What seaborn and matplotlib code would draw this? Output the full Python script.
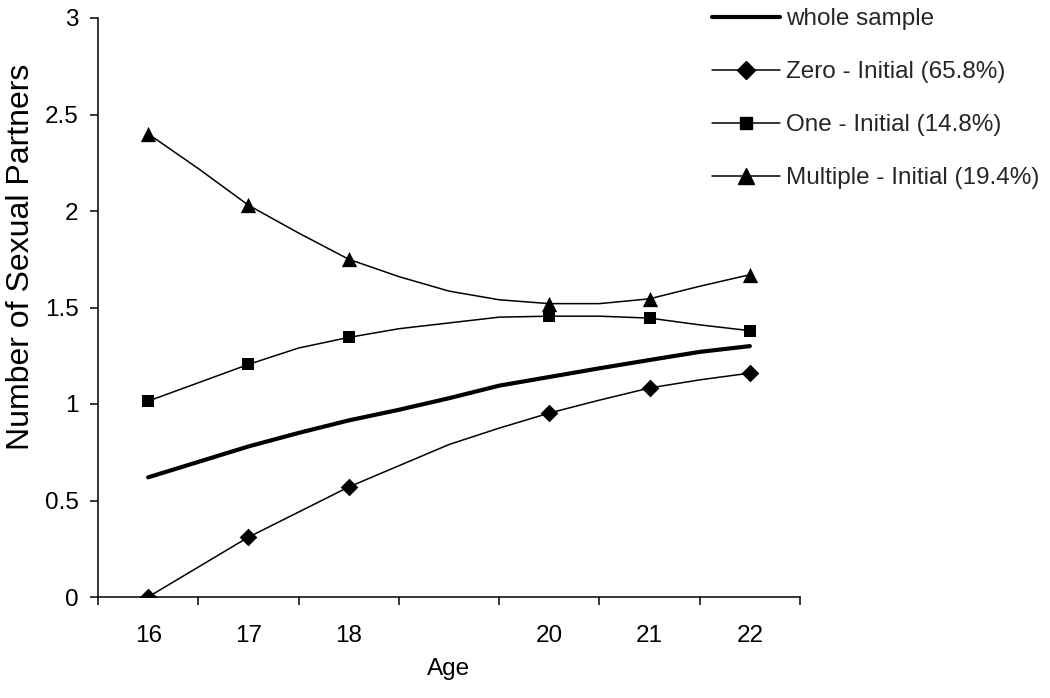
import numpy as np
import pandas as pd
import matplotlib
matplotlib.use("Agg")
import matplotlib.pyplot as plt
from matplotlib.lines import Line2D
import seaborn as sns

# ---- data ----
ages = [16, 16.5, 17, 17.5, 18, 18.5, 19, 19.5, 20, 20.5, 21, 21.5, 22]
whole_sample = [0.62, 0.70, 0.78, 0.85, 0.915, 0.97, 1.03, 1.095, 1.14, 1.185, 1.228, 1.27, 1.30]
zero_initial = [0.00, 0.155, 0.31, 0.44, 0.57, 0.68, 0.79, 0.875, 0.953, 1.02, 1.083, 1.125, 1.16]
one_initial = [1.015, 1.11, 1.205, 1.29, 1.345, 1.39, 1.42, 1.45, 1.455, 1.455, 1.445, 1.41, 1.38]
multiple_initial = [2.40, 2.22, 2.03, 1.886, 1.75, 1.66, 1.585, 1.54, 1.52, 1.52, 1.545, 1.61, 1.67]
marker_ages = [16, 17, 18, 20, 21, 22]
tick_labels = ["16", "17", "18", "20", "21", "22"]
series_names = ["whole sample", "Zero - Initial (65.8%)", "One - Initial (14.8%)",
                "Multiple - Initial (19.4%)"]

sns.set_theme(style="white")
plt.rcParams["font.family"] = ["Liberation Sans", "DejaVu Sans"]

df = pd.DataFrame({
    "age": ages * 4,
    "value": whole_sample + zero_initial + one_initial + multiple_initial,
    "series": sum([[n] * len(ages) for n in series_names], []),
})

fig = plt.figure(figsize=(10.5, 6.98), dpi=100)
ax = fig.add_axes([98 / 1050, 1 - 597 / 698, 702 / 1050, 579 / 698])

styles = {
    series_names[0]: dict(lw=3.0, marker=None, ms=0),
    series_names[1]: dict(lw=1.1, marker="D", ms=9),
    series_names[2]: dict(lw=1.1, marker="s", ms=9),
    series_names[3]: dict(lw=1.1, marker="^", ms=11),
}

handles = []
for name in series_names:
    sub = df[df["series"] == name]
    st = styles[name]
    sns.lineplot(data=sub, x="age", y="value", ax=ax, color="black",
                 linewidth=st["lw"], legend=False, sort=True)
    if st["marker"]:
        msub = sub[sub["age"].isin(marker_ages)]
        sns.scatterplot(data=msub, x="age", y="value", ax=ax, color="black",
                        marker=st["marker"], s=st["ms"] ** 2, edgecolor="black",
                        linewidth=0, legend=False, zorder=5)
    handles.append(Line2D([], [], color="black", lw=st["lw"],
                          marker=st["marker"], markersize=st["ms"]))

ax.set_xlim(15.5, 22.5)
ax.set_ylim(0, 3)
ax.set_xticks(np.arange(15.5, 23.0, 1.0))
ax.set_xticklabels([])
ax.set_xticks(marker_ages, minor=True)
ax.set_xticklabels(tick_labels, minor=True)
ax.set_yticks(np.arange(0, 3.01, 0.5))
ax.set_yticklabels(["0", "0.5", "1", "1.5", "2", "2.5", "3"])

ax.tick_params(axis="x", which="major", direction="out", length=6, width=1.1,
               color="black", bottom=True)
ax.tick_params(axis="x", which="minor", length=0, pad=20, labelsize=17.5,
               labelcolor="black", bottom=True)
ax.tick_params(axis="y", direction="out", length=6, width=1.1, color="black",
               pad=8, labelsize=17.5, labelcolor="black", left=True)

for s in ["top", "right"]:
    ax.spines[s].set_visible(False)
for s in ["left", "bottom"]:
    ax.spines[s].set_color("black")
    ax.spines[s].set_linewidth(1.1)

ax.set_xlabel("Age", fontsize=17.5, color="black")
ax.set_ylabel("Number of Sexual Partners", fontsize=23, color="black")
ax.xaxis.set_label_coords(0.5, -0.105)
ax.yaxis.set_label_coords(-0.088, 0.587)
ax.grid(False)

leg = fig.legend(handles, series_names, loc="upper left",
                 bbox_to_anchor=(712 / 1050, 1 - 8 / 698), frameon=False,
                 fontsize=17.5, handlelength=2.8, handletextpad=0.25,
                 labelspacing=1.28, borderaxespad=0, borderpad=0)

fig.savefig("out.png", dpi=100)
